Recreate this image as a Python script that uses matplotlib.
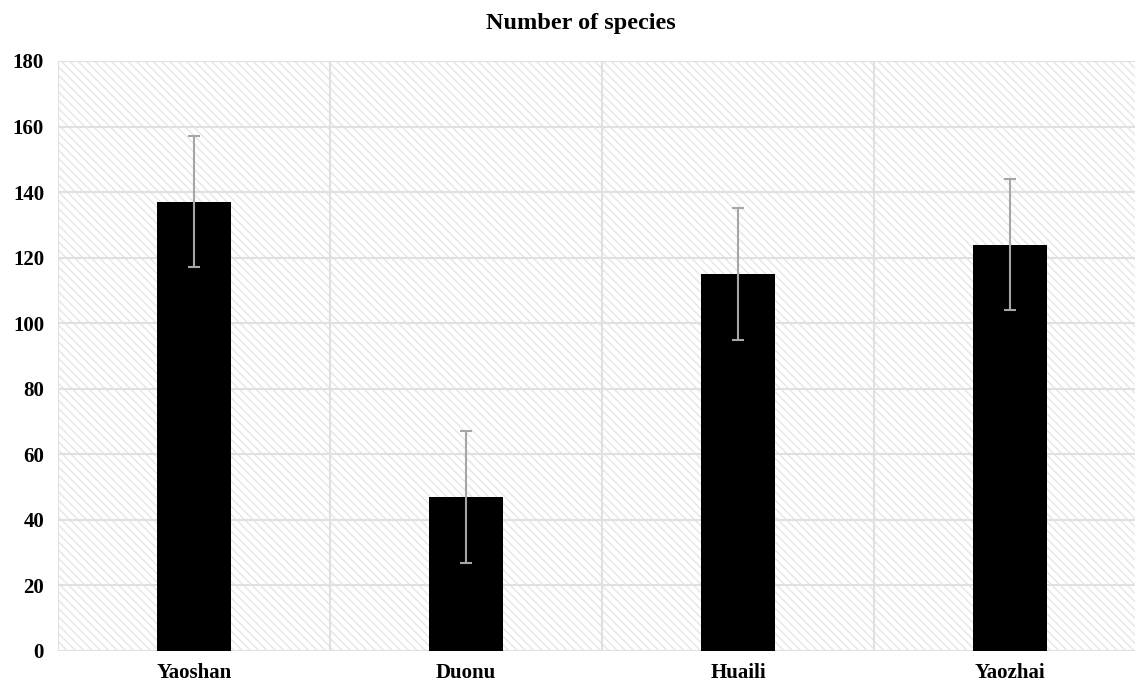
import numpy as np
import matplotlib.pyplot as plt
from matplotlib.patches import Rectangle

plt.rcParams['font.family'] = ['Liberation Serif', 'DejaVu Serif']
plt.rcParams['hatch.linewidth'] = 1.0

sites = ['Yaoshan', 'Duonu', 'Huaili', 'Yaozhai']
species = [137, 47, 115, 124]
errors = [20, 20, 20, 20]

fig = plt.figure(figsize=(11.35, 6.85), dpi=100)
ax = fig.add_axes([58 / 1135, 34 / 685, 1 - 58 / 1135, 590 / 685])

x = np.arange(len(sites))
grid_c = '#e0e0e0'

# hatched background
ax.add_patch(Rectangle((-0.5, 0), 4, 180, facecolor='white', edgecolor='#e6e6e6',
                       hatch='\\\\\\\\', linewidth=0, zorder=0))
for yv in range(20, 181, 20):
    ax.axhline(yv, color=grid_c, lw=1.5, zorder=1)
ax.axhline(0, color=grid_c, lw=1.5, zorder=1)
for xv in np.arange(-0.5, 4, 1):
    ax.axvline(xv, color=grid_c, lw=1.5, zorder=1)

ax.bar(x, species, width=0.27, color='black', zorder=2)
ax.errorbar(x, species, yerr=errors, fmt='none', ecolor='#a6a6a6', elinewidth=1.5,
            capsize=4, capthick=1.5, zorder=3)

ax.set_xlim(-0.5, 3.5 - 11 / 272)
ax.set_ylim(0, 180)
ax.set_yticks(range(0, 181, 20))
ax.set_xticks(x)
ax.set_xticklabels(sites)
for s in ax.spines.values():
    s.set_visible(False)
ax.tick_params(length=0, labelsize=15)
ax.tick_params(axis='y', pad=10)
ax.tick_params(axis='x', pad=9)
for lab in ax.get_xticklabels() + ax.get_yticklabels():
    lab.set_fontweight('bold')
fig.text(581 / 1135, 1 - 23 / 685, 'Number of species', fontsize=17.5,
         fontweight='bold', ha='center', va='center')

fig.savefig('out.png', dpi=100)
